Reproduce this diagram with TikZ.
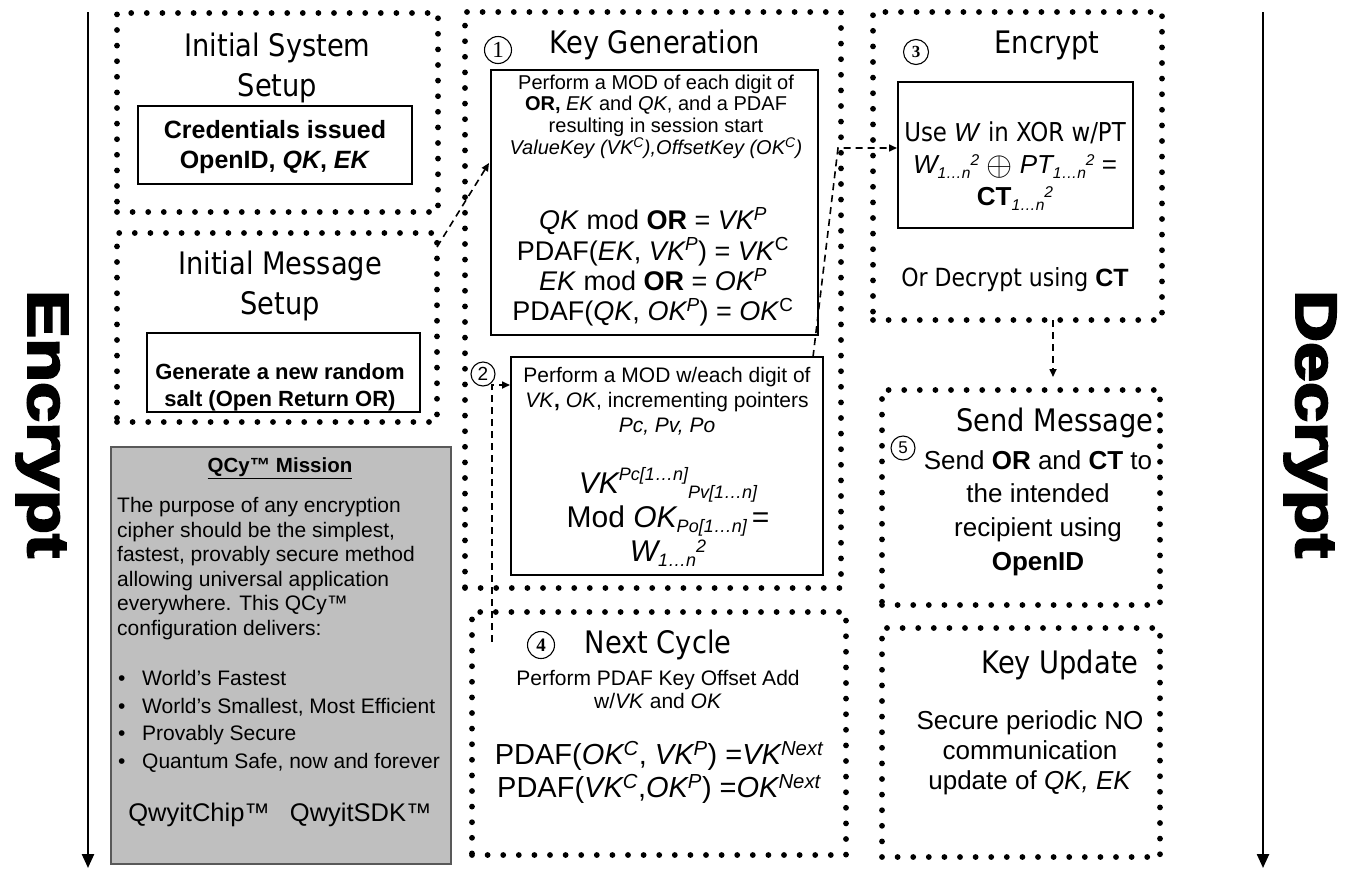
\documentclass[tikz,border=0pt]{standalone}
\usepackage{fontspec}
\setmainfont{Liberation Sans}
\newfontfamily\ttl[FakeStretch=0.88]{DejaVu Sans}
\newfontfamily\dig{Liberation Serif}
\newfontfamily\heavy[FakeBold=3.5]{Liberation Sans Bold}
\usetikzlibrary{arrows.meta}
% raised / lowered small indices that follow the current font
\newcommand\highx[1]{\raisebox{0.8ex}{\scalebox{0.6}{#1}}}
\newcommand\lowx[1]{\raisebox{-0.35ex}{\scalebox{0.6}{#1}}}
\newcommand\sqx[1]{\raisebox{0.55ex}{\scalebox{0.6}{#1}}}
\begin{document}
\begin{tikzpicture}[x=1pt,y=-1pt,
  dotbox/.style={draw, line width=5.8pt, line cap=round, dash pattern=on 0pt off 15.6pt, inner sep=0pt, outer sep=0pt},
  solidbox/.style={draw, line width=1.8pt, inner sep=0pt, outer sep=0pt},
  txt/.style={align=center, inner sep=0pt},
  ttlfont/.style={font=\ttl\fontsize{31}{40}\selectfont},
  conn/.style={line width=1.6pt, dash pattern=on 7pt off 5pt, -{Triangle[length=8pt,width=7pt]}},
  numc/.style={circle, draw, line width=1.1pt, inner sep=0pt},
  flowarrow/.style={line width=2.4pt, -{Triangle[length=14pt,width=12pt]}}
]
\useasboundingbox (0,0) rectangle (1351,873);
\fill[white] (0,0) rectangle (1351,873);

% ---- side flow arrows and labels
\coordinate (lt) at (88,12);
\coordinate (lb) at (88,868);
\coordinate (rt) at (1263,12);
\coordinate (rb) at (1263,868);
\draw[flowarrow] (lt) -- (lb);
\draw[flowarrow] (rt) -- (rb);
\node[rotate=-90, inner sep=0pt] (enclab) at (42,424) {\heavy\fontsize{58}{58}\selectfont\scalebox{1.24}[1]{Encrypt}};
\node[rotate=-90, inner sep=0pt] (declab) at (1310,424) {\heavy\fontsize{58}{58}\selectfont\scalebox{1.24}[1]{Decrypt}};

% ---- dotted stage boxes
\node[dotbox, minimum width=321pt, minimum height=199pt] (iss) at (277.5,112.5) {};
\node[dotbox, minimum width=320pt, minimum height=189pt] (ims) at (277,327.5) {};
\node[dotbox, minimum width=376pt, minimum height=576pt] (kg) at (653,300) {};
\node[dotbox, minimum width=374pt, minimum height=243pt] (nc) at (659,733.5) {};
\node[dotbox, minimum width=289pt, minimum height=308pt] (enc) at (1017.5,166) {};
\node[dotbox, minimum width=278pt, minimum height=215pt] (snd) at (1021,497.5) {};
\node[dotbox, minimum width=278pt, minimum height=229pt] (ku) at (1021,742.5) {};

% ---- solid inner boxes
\node[solidbox, minimum width=274pt, minimum height=78pt] (cred) at (275,145) {};
\node[solidbox, minimum width=273pt, minimum height=79pt] (salt) at (283.5,372.5) {};
\node[solidbox, minimum width=327pt, minimum height=265pt] (kg1) at (654.5,202.5) {};
\node[solidbox, minimum width=312pt, minimum height=218pt] (kg2) at (667,466) {};
\node[solidbox, minimum width=235pt, minimum height=146pt] (xor) at (1015.5,155) {};

% ---- mission panel
\node[draw=gray!70!black, line width=1.4pt, fill=gray!50, minimum width=340pt, minimum height=417pt, inner sep=0pt] (mis) at (281,655.5) {};
\node[txt, font=\bfseries\fontsize{20.5}{20.5}\selectfont] (misT) at (280,468) {\underline{QCy™ Mission}};
\node[txt, align=left, anchor=west, font=\fontsize{21}{24.6}\selectfont] (misP) at (117,568.5) {The purpose of any encryption\\cipher should be the simplest,\\fastest, provably secure method\\allowing universal application\\everywhere. This QCy™\\configuration delivers:};
\node[txt, align=left, anchor=west, font=\fontsize{21}{27.7}\selectfont] (misB) at (118,721.5) {\makebox[24pt][l]{\textbullet}World’s Fastest\\\makebox[24pt][l]{\textbullet}World’s Smallest, Most Efficient\\\makebox[24pt][l]{\textbullet}Provably Secure\\\makebox[24pt][l]{\textbullet}Quantum Safe, now and forever};
\node[txt, font=\fontsize{25.5}{25.5}\selectfont] (misC) at (280,815) {QwyitChip™\hspace{20pt}QwyitSDK™};

% ---- titles
\node[txt, ttlfont] (issT) at (277.5,68) {Initial System\\Setup};
\node[txt, ttlfont] (imsT) at (280,286) {Initial Message\\Setup};
\node[txt, ttlfont] (kgT) at (655,45) {Key Generation};
\node[txt, ttlfont] (encT) at (1047,45) {Encrypt};
\node[txt, ttlfont] (ncT) at (658,645) {Next Cycle};
\node[txt, ttlfont] (sndT) at (1055,423) {Send Message};
\node[txt, ttlfont] (kuT) at (1060,665) {Key Update};

% ---- step numbers
\node[numc, minimum size=27pt, font=\dig\fontsize{23}{23}\selectfont] (n1) at (498,50) {1};
\node[numc, minimum size=24pt, font=\fontsize{19}{19}\selectfont] (n2) at (483,374) {2};
\node[numc, minimum size=25pt, font=\dig\bfseries\fontsize{17}{17}\selectfont] (n3) at (916,52) {3};
\node[numc, minimum size=27pt, font=\dig\bfseries\fontsize{19}{19}\selectfont] (n4) at (541,645) {4};
\node[numc, minimum size=24pt, font=\fontsize{17}{17}\selectfont] (n5) at (903,448) {5};

% ---- box contents
\node[txt, font=\bfseries\fontsize{25}{30}\selectfont] (credT) at (275,147) {Credentials issued\\OpenID, \textit{QK}, \textit{EK}};
\node[txt, font=\bfseries\fontsize{22}{27}\selectfont] (saltT) at (280,387) {Generate a new random\\salt (Open Return OR)};

\node[txt, font=\fontsize{20}{21.3}\selectfont] (kg1P) at (656,117) {Perform a MOD of each digit of\\\textbf{OR,} \textit{EK} and \textit{QK}, and a PDAF\\resulting in session start\\\textit{ValueKey (VK\textsuperscript{C}),OffsetKey (OK\textsuperscript{C})}};
\node[txt, font=\fontsize{27}{30.4}\selectfont] (kg1E) at (653,267) {\textit{QK} mod \textbf{OR} = \textit{VK\textsuperscript{P}}\\PDAF(\textit{EK}, \textit{VK\textsuperscript{P}}) = \textit{VK}\textsuperscript{C}\\\textit{EK} mod \textbf{OR} = \textit{OK\textsuperscript{P}}\\PDAF(\textit{QK}, \textit{OK\textsuperscript{P}}) = \textit{OK}\textsuperscript{C}};

\node[txt, font=\fontsize{21}{25}\selectfont] (kg2P) at (667,401) {Perform a MOD w/each digit of\\\textit{VK}\textbf{,} \textit{OK}, incrementing pointers\\\textit{Pc, Pv, Po}};
\node[txt, font=\fontsize{30}{34}\selectfont] (kg2E) at (668,517) {\textit{VK\highx{Pc[1…n]}\lowx{Pv[1…n]}}\\Mod \textit{OK\lowx{Po[1…n]}}\,=\\\textit{W\lowx{1…n}\sqx{2}}};

\node[txt, font=\fontsize{21}{23}\selectfont] (ncP) at (658,689) {Perform PDAF Key Offset Add\\w/\textit{VK} and \textit{OK}};
\node[txt, font=\fontsize{29}{33}\selectfont] (ncE) at (659,772) {PDAF(\textit{OK\textsuperscript{C}}, \textit{VK\textsuperscript{P}}) =\textit{VK\textsuperscript{Next}}\\PDAF(\textit{VK\textsuperscript{C}},\textit{OK\textsuperscript{P}}) =\textit{OK\textsuperscript{Next}}};

\node[txt, font=\fontsize{26}{32}\selectfont] (xorT) at (1015,166) {{\ttl Use} \textit{W} {\ttl in XOR w/PT}\\\textit{W\lowx{1…n}\sqx{2}} \raisebox{-0.15ex}{\scalebox{1.35}{$\oplus$}} \textit{PT\lowx{1…n}\sqx{2}} =\\\textbf{CT}\textit{\lowx{1…n}\sqx{2}}};
\node[txt, font=\fontsize{25}{25}\selectfont] (decT) at (1015,280) {{\ttl Or Decrypt using} \textbf{CT}};

\node[txt, font=\fontsize{26}{33.6}\selectfont] (sndP) at (1038,513) {Send \textbf{OR} and \textbf{CT} to\\the intended\\recipient using\\\textbf{OpenID}};
\node[txt, font=\fontsize{26}{30}\selectfont] (kuP) at (1030,753) {Secure periodic NO\\communication\\update of \textit{QK, EK}};

% ---- connectors
\coordinate (a0) at (437,247);
\coordinate (a1) at (489,163);
\draw[conn] (a0) -- (a1);
\coordinate (b0) at (813,357);
\coordinate (b1) at (838,148);
\coordinate (b2) at (897,148);
\draw[conn] (b0) -- (b1) -- (b2);
\coordinate (c0) at (492,642);
\coordinate (c1) at (492,385);
\coordinate (c2) at (510,385);
\draw[conn] (c0) -- (c1) -- (c2);
\coordinate (d0) at (1053,320);
\coordinate (d1) at (1053,377);
\draw[conn] (d0) -- (d1);
\end{tikzpicture}
\end{document}
